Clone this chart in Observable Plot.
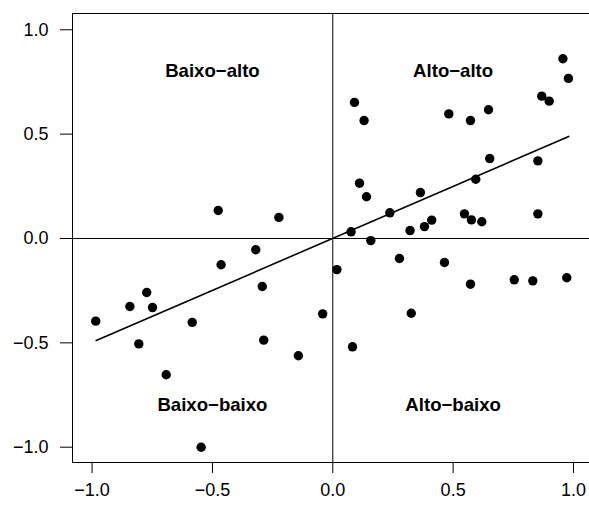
<!DOCTYPE html>
<html>
<head>
<meta charset="utf-8">
<script src="https://cdn.jsdelivr.net/npm/d3@7"></script>
<script src="https://cdn.jsdelivr.net/npm/@observablehq/plot@0.6"></script>
<style>
  html, body { margin: 0; padding: 0; background: #fff; }
  #chart svg { display: block; }
</style>
</head>
<body>
<div id="chart"></div>
<script>
// Standardized variable (z) and its spatial lag (Wz) for each area
const zValues = [
  -0.476, -0.224,
  0.956, 0.979, 0.868, 0.899, 0.090, 0.130, 0.482, 0.572, 0.647, 0.652,
  0.852, 0.594, 0.111, 0.140, 0.364, 0.237, 0.547, 0.576, 0.619, 0.852,
  0.321, 0.381, 0.411, 0.076,
  0.158, 0.017, 0.277, 0.464, 0.572, 0.754, 0.831, 0.972, 0.326, 0.082,
  -0.042, -0.985, -0.843, -0.773, -0.749, -0.806, -0.692, -0.584, -0.464,
  -0.320, -0.293, -0.287, -0.143, -0.547
];
const lagValues = [
  0.134, 0.101,
  0.861, 0.767, 0.682, 0.658, 0.652, 0.565, 0.597, 0.565, 0.617, 0.383,
  0.372, 0.284, 0.265, 0.200, 0.220, 0.123, 0.118, 0.089, 0.080, 0.118,
  0.038, 0.057, 0.088, 0.032,
  -0.010, -0.149, -0.096, -0.115, -0.219, -0.198, -0.203, -0.188, -0.358, -0.519,
  -0.361, -0.396, -0.326, -0.259, -0.331, -0.505, -0.653, -0.402, -0.126,
  -0.054, -0.230, -0.487, -0.562, -1.000
];

// Fitted line (slope = Moran's I), drawn over the range of z
const fitX = [-0.983, 0.980];
const fitY = [-0.489, 0.489];

// Quadrant names and where they are written
const quadrantNames = ["Baixo−alto", "Alto−alto", "Baixo−baixo", "Alto−baixo"];
const quadrantX = [-0.5, 0.5, -0.5, 0.5];
const quadrantY = [0.8, 0.8, -0.8, -0.8];

const tickValues = [-1.0, -0.5, 0.0, 0.5, 1.0];

const points = zValues.map((z, i) => ({z, wz: lagValues[i]}));
const fit = fitX.map((x, i) => ({x, y: fitY[i]}));
const quadrants = quadrantNames.map((name, i) => ({name, x: quadrantX[i], y: quadrantY[i]}));

const fmt = d => d.toFixed(1).replace("-", "\u2212");

const chart = Plot.plot({
  width: 589,
  height: 507,
  marginLeft: 72,
  marginRight: -3,
  marginTop: 13,
  marginBottom: 45,
  style: {
    fontFamily: "'Liberation Sans', Arial, Helvetica, sans-serif",
    fontSize: "18px",
    color: "#000",
    background: "#fff"
  },
  x: {domain: [-1.0814, 1.079]},
  y: {domain: [-1.0733, 1.078]},
  marks: [
    Plot.frame({stroke: "#000", strokeWidth: 1}),
    Plot.ruleX([0], {stroke: "#000", strokeWidth: 1}),
    Plot.ruleY([0], {stroke: "#000", strokeWidth: 1}),
    Plot.axisX(tickValues, {
      tickSize: 11, tickPadding: 10, tickFormat: fmt, label: null,
      fontSize: 18, stroke: "#000"
    }),
    Plot.axisY(tickValues, {
      tickSize: 12, tickPadding: 12, tickFormat: fmt, label: null,
      fontSize: 18, stroke: "#000"
    }),
    Plot.line(fit, {x: "x", y: "y", stroke: "#000", strokeWidth: 1.6}),
    Plot.dot(points, {x: "z", y: "wz", r: 4.7, fill: "#000", stroke: "none"}),
    Plot.text(quadrants, {
      x: "x", y: "y", text: "name",
      fontSize: 18.6, fontWeight: "bold", fill: "#000"
    })
  ]
});

document.getElementById("chart").appendChild(chart);
</script>
</body>
</html>
